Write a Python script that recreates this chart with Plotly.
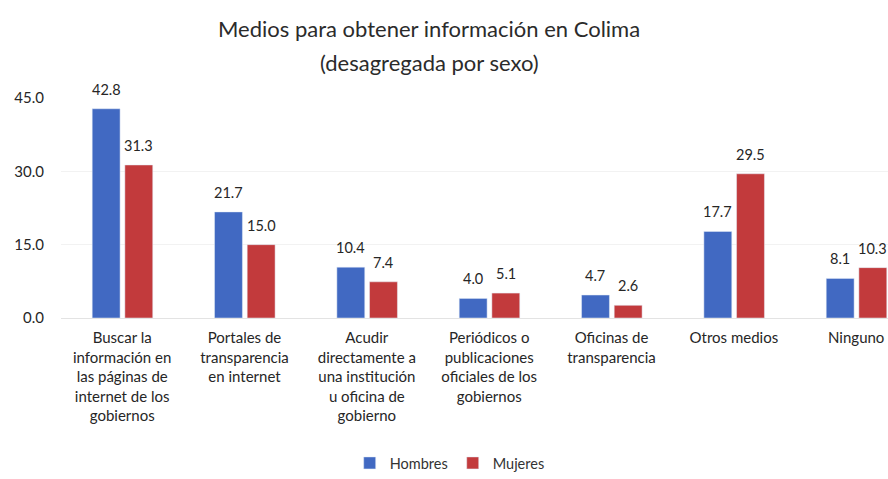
import plotly.graph_objects as go

categories = [
    "Buscar la<br>información en<br>las páginas de<br>internet de los<br>gobiernos",
    "Portales de<br>transparencia<br>en internet",
    "Acudir<br>directamente a<br>una institución<br>u oficina de<br>gobierno",
    "Periódicos o<br>publicaciones<br>oficiales de los<br>gobiernos",
    "Oficinas de<br>transparencia",
    "Otros medios",
    "Ninguno",
]
hombres = [42.8, 21.7, 10.4, 4.0, 4.7, 17.7, 8.1]
mujeres = [31.3, 15.0, 7.4, 5.1, 2.6, 29.5, 10.3]
y_ticks = [0, 15, 30, 45]
y_tick_labels = ["0.0", "15.0", "30.0", "45.0"]
title_lines = ["Medios para obtener información en Colima", "(desagregada por sexo)"]

xpos = list(range(len(categories)))
font_family = "Lato, 'Open Sans', sans-serif"
BAR_W = 0.228
OFF_H = -0.245
OFF_M = 0.022

fig = go.Figure()
fig.add_trace(go.Bar(
    x=xpos, y=hombres, name="Hombres",
    marker_color="#4169C2", width=BAR_W, offset=OFF_H,
))
fig.add_trace(go.Bar(
    x=xpos, y=mujeres, name="Mujeres",
    marker_color="#C23A3C", width=BAR_W, offset=OFF_M,
))

annotations = []
for i, (h, m) in enumerate(zip(hombres, mujeres)):
    for v, off in ((h, OFF_H), (m, OFF_M)):
        annotations.append(dict(
            x=i + off + BAR_W / 2, y=v, xref="x", yref="y",
            text=f"{v:.1f}", showarrow=False, yanchor="bottom", yshift=9,
            font=dict(size=14.5, color="#262626", family=font_family),
        ))
for line, yp in zip(title_lines, (1.315, 1.162)):
    annotations.append(dict(
        x=0.445, y=yp, xref="paper", yref="paper", text=line, showarrow=False,
        xanchor="center", yanchor="middle",
        font=dict(size=22, color="#2b2b2b", family=font_family),
    ))

fig.update_layout(
    width=888, height=479,
    margin=dict(l=61, r=0, t=98, b=159),
    paper_bgcolor="white", plot_bgcolor="white",
    barmode="overlay",
    font=dict(family=font_family, color="#262626"),
    annotations=annotations,
    showlegend=True,
    legend=dict(
        orientation="h", x=0.47, xanchor="center", y=-0.662, yanchor="middle",
        font=dict(size=14.5, color="#333333"),
        itemwidth=30, traceorder="normal",
    ),
)
fig.update_xaxes(
    range=[-0.5, 6.26],
    tickmode="array", tickvals=xpos, ticktext=categories,
    tickangle=0, tickfont=dict(size=15, color="#262626"),
    showgrid=False, showline=True, linecolor="#e3e3e3", ticks="",
    zeroline=False, ticklabelstandoff=6,
)
fig.update_yaxes(
    range=[0, 45],
    tickmode="array", tickvals=y_ticks, ticktext=y_tick_labels,
    tickfont=dict(size=15, color="#262626"),
    showgrid=True, gridcolor="#f2f2f2", zeroline=False, showline=False,
    ticklabelstandoff=16,
)

fig.write_html(
    "out.html",
    config={"displayModeBar": False},
    post_script="document.body.style.margin='0';document.body.style.overflow='hidden';",
)
